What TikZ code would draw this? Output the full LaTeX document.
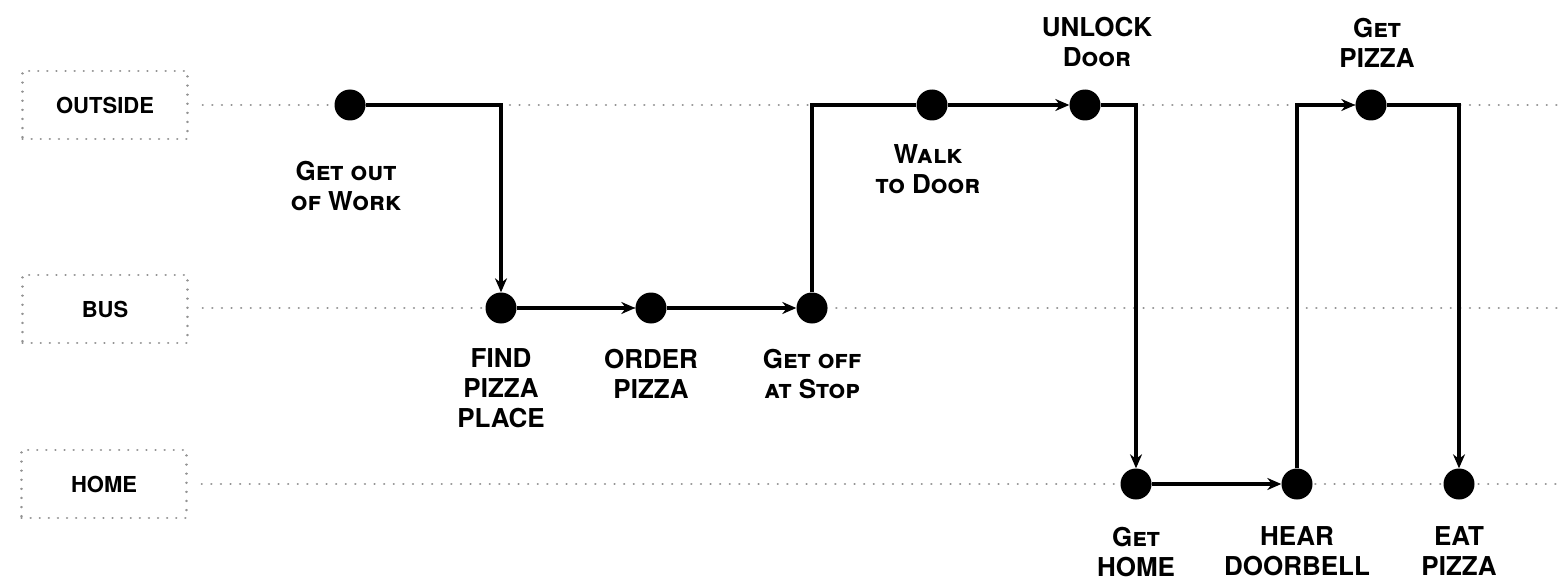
\documentclass[tikz,border=0pt]{standalone}
\usepackage{fontspec}
\setmainfont{TeX Gyre Heros}
\usetikzlibrary{arrows.meta, positioning, calc}
\tikzset{
    lanebox/.style={draw=gray!85, line width=2.4pt, dash pattern=on 0.1pt off 9pt, line cap=round, rectangle, minimum width=165pt, minimum height=68pt, font=\fontsize{22}{26}\selectfont\bfseries},
    laneline/.style={draw=gray!85, line width=2.4pt, dash pattern=on 0.1pt off 9.5pt, line cap=round},
    event/.style={circle, fill=black, inner sep=0pt, minimum size=31pt},
    eventlabel/.style={font=\fontsize{26}{30}\selectfont\bfseries\scshape, align=center, inner sep=0pt},
    flowline/.style={line width=3.4pt},
    flow/.style={flowline, -{Stealth[length=14pt, width=12pt]}},
}

\begin{document}
\begin{tikzpicture}[x=1pt, y=-1pt, node distance=25pt]
    \useasboundingbox (0,0) rectangle (1558,583);

    % Lanes
    \node[lanebox] (outside) at (105,105) {OUTSIDE};
    \node[lanebox] (bus) at (105,309) {BUS};
    \node[lanebox] (home) at (104,484) {HOME};
    \coordinate (outside end) at (1558,105);
    \coordinate (bus end) at (1558,308);
    \coordinate (home end) at (1558,484);
    \draw[laneline] ([xshift=14pt]outside.east) -- (outside end);
    \draw[laneline] ([xshift=14pt]bus.east |- bus end) -- (bus end);
    \draw[laneline] ([xshift=14pt]home.east) -- (home end);

    % Events
    \node[event] (work) at (350,105) {};
    \node[event] (find) at (501,308) {};
    \node[event] (order) at (651,308) {};
    \node[event] (stop) at (812,308) {};
    \node[event] (walk) at (932,105) {};
    \node[event] (unlock) at (1085,105) {};
    \node[event] (gethome) at (1136,484) {};
    \node[event] (bell) at (1297,484) {};
    \node[event] (pizza) at (1371,105) {};
    \node[event] (eat) at (1459,484) {};

    % Labels
    \node[eventlabel, below=40pt of work, xshift=-4pt] (worklbl) {Get out\\of Work};
    \node[eventlabel, below=of find] (findlbl) {FIND\\PIZZA\\PLACE};
    \node[eventlabel, below=of order] (orderlbl) {ORDER\\PIZZA};
    \node[eventlabel, below=of stop] (stoplbl) {Get off\\at Stop};
    \node[eventlabel, below=24pt of walk, xshift=-4pt] (walklbl) {Walk\\to Door};
    \node[eventlabel, above=22pt of unlock, xshift=12pt] (unlocklbl) {UNLOCK\\Door};
    \node[eventlabel, above=22pt of pizza, xshift=6pt] (pizzalbl) {Get\\PIZZA};
    \node[eventlabel, below=27pt of gethome] (gethomelbl) {Get\\HOME};
    \node[eventlabel, below=27pt of bell] (belllbl) {HEAR\\DOORBELL};
    \node[eventlabel, below=27pt of eat] (eatlbl) {EAT\\PIZZA};

    % Flow
    \draw[flow] (work) -| (find);
    \draw[flow] (find) -- (order);
    \draw[flow] (order) -- (stop);
    \draw[flowline] (stop) |- (walk);
    \draw[flow] (walk) -- (unlock);
    \draw[flow] (unlock) -| (gethome);
    \draw[flow] (gethome) -- (bell);
    \draw[flow] (bell) |- (pizza);
    \draw[flow] (pizza) -| (eat);
\end{tikzpicture}
\end{document}
